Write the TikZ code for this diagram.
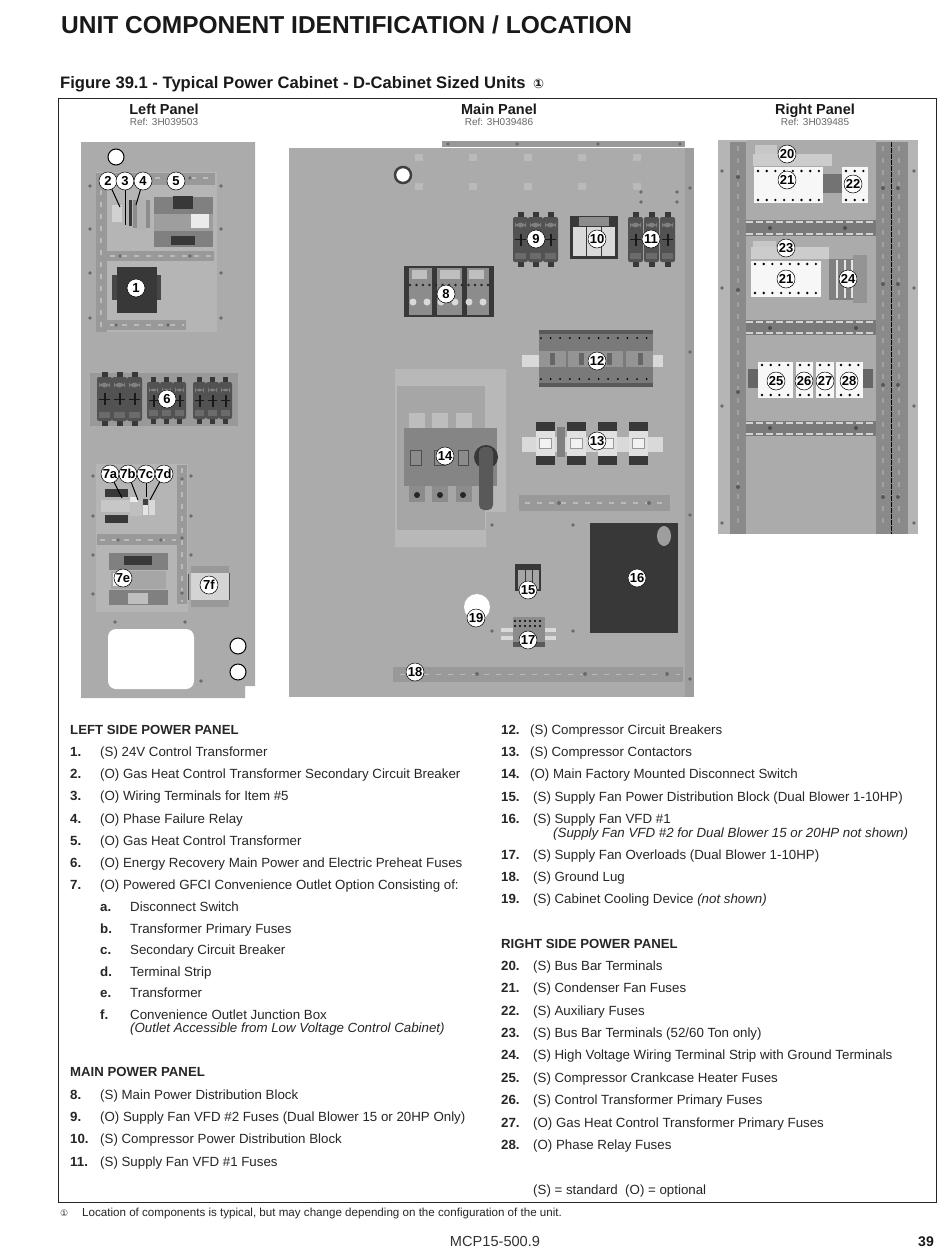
\documentclass[tikz,border=0pt]{standalone}
\usepackage{fontspec}
\setmainfont{Liberation Sans}
\newfontfamily\symfont{DejaVu Sans}
\newcommand{\itemnum}[2][30pt]{\makebox[#1][l]{\textbf{#2}}}
% x, y, width, height of one fuse holder
\newcommand{\fuseholder}[4]{%
  \fill[darkpart] (#1+0.3*#3,#2) rectangle (#1+0.7*#3,#2+#4);
  \fill[fusepart, rounded corners=2pt] (#1,#2+5) rectangle (#1+#3,#2+#4-5);
  \fill[black!50] (#1+2,#2+16) -- (#1+2,#2+10) arc (180:0:0.5*#3-2) -- (#1+#3-2,#2+16) arc (0:-180:0.5*#3-2) -- cycle;
  \fill[black!58] (#1+2,#2+#4-14) rectangle (#1+#3-2,#2+#4-8);
  \fill[black!90] (#1+0.5*#3-1,#2+0.5*#4-6) rectangle (#1+0.5*#3+1,#2+0.5*#4+6);
  \draw[black!90, line width=1pt] (#1+2,#2+0.5*#4) -- (#1+#3-2,#2+0.5*#4);
}
% x of one contactor
\newcommand{\contactor}[1]{%
  \fill[darkpart] (#1,422) rectangle (#1+19,431);
  \fill[darkpart] (#1,456) rectangle (#1+19,465);
  \fill[black!12] (#1,431) rectangle (#1+19,456);
  \fill[black!40] (#1+3,438) rectangle (#1+16,449);
  \fill[black!5] (#1+4,439) rectangle (#1+15,448);
}
\begin{document}
\begin{tikzpicture}[
    x=1pt, y=-1pt,
    plate/.style={fill=black!29},
    backplate/.style={fill=black!33},
    strip/.style={fill=black!40},
    darkstrip/.style={fill=black!52},
    darkpart/.style={fill=black!78},
    fusepart/.style={fill=black!68},
    midpart/.style={fill=black!52},
    whitepart/.style={fill=black!3},
    rivet/.style={fill=black!58},
    slots/.style={draw=black!27, line width=1.8pt, dash pattern=on 5pt off 7pt},
    barslots/.style={draw=black!18, line width=2.6pt, dash pattern=on 7pt off 3pt},
    dotrow/.style={draw=black, line width=2.6pt, line cap=round, dash pattern=on 0pt off 8.7pt},
    callout/.style={circle, draw=black, fill=white, minimum size=18pt, inner sep=0, line width=0.5pt, font=\fontsize{13}{13}\selectfont\bfseries},
    leader/.style={draw=black, line width=1pt},
    holering/.style={draw=black, fill=white, line width=1pt},
    headline/.style={anchor=base west, inner sep=0, font=\fontsize{24.5}{26}\selectfont\bfseries, text=black!90},
    figtitle/.style={anchor=base west, inner sep=0, font=\fontsize{16.6}{18}\selectfont\bfseries, text=black!90},
    paneltitle/.style={anchor=base, inner sep=0, font=\fontsize{14.5}{16}\selectfont\bfseries, text=black!90},
    refnote/.style={anchor=base, inner sep=0, font=\fontsize{10}{11}\selectfont, text=black!60},
    sectitle/.style={anchor=base west, inner sep=0, font=\fontsize{13.2}{15}\selectfont\bfseries, text=black!85},
    itemtext/.style={anchor=base west, inner sep=0, font=\fontsize{13.3}{15}\selectfont, text=black!85},
    itemnote/.style={anchor=base west, inner sep=0, font=\fontsize{13.3}{15}\selectfont\itshape, text=black!85},
    footnote/.style={anchor=base west, inner sep=0, font=\fontsize{11.6}{13}\selectfont, text=black!85}
]

\useasboundingbox (0,0) rectangle (950,1248);
\fill[white] (0,0) rectangle (950,1248);

% ============================================
% TITLES AND FRAME
% ============================================
\node[headline] (pagetitle) at (61,33) {UNIT COMPONENT IDENTIFICATION / LOCATION};
\node[figtitle] (figtitle) at (60,88) {Figure 39.1 - Typical Power Cabinet - D-Cabinet Sized Units \,{\symfont\fontsize{13}{13}\selectfont ①}};
\draw[black!85, line width=1pt] (58,98) rectangle (936,1202);

\node[paneltitle] (lefttitle) at (164,114) {Left Panel};
\node[refnote] (leftref) at (164,125.5) {Ref: 3H039503};
\node[paneltitle] (maintitle) at (499,114) {Main Panel};
\node[refnote] (mainref) at (499,125.5) {Ref: 3H039486};
\node[paneltitle] (righttitle) at (815,114) {Right Panel};
\node[refnote] (rightref) at (815,125.5) {Ref: 3H039485};

% ============================================
% LEFT PANEL
% ============================================
\fill[backplate] (81,142) -- (255,142) -- (255,686) -- (245,686) -- (245,698) -- (81,698) -- cycle;
\fill[plate] (96,172) rectangle (217,332);
\fill[plate] (96,464) rectangle (188,612);
\fill[rivet] (90,186) circle (1.8) (90,229) circle (1.8) (90,273) circle (1.8) (90,318) circle (1.8);
\fill[rivet] (221,186) circle (1.8) (221,229) circle (1.8) (221,273) circle (1.8) (221,318) circle (1.8);
\fill[rivet] (93,476) circle (1.8) (93,516) circle (1.8) (93,555) circle (1.8) (93,594) circle (1.8);
\fill[rivet] (191,476) circle (1.8) (191,516) circle (1.8) (191,555) circle (1.8);
\fill[rivet] (115,622) circle (1.8) (185,622) circle (1.8) (201,681) circle (1.8);

% Upper strips
\fill[strip] (96,173) rectangle (215,185);
\fill[strip] (96,173) rectangle (107,332);
\fill[strip] (107,251) rectangle (214,261);
\fill[strip] (96,320) rectangle (186,330);
\draw[slots] (155,178) -- (213,178);
\draw[slots] (101,190) -- (101,328);
\draw[slots] (110,256) -- (212,256);
\draw[slots] (110,325) -- (184,325);
\fill[rivet] (190,178) circle (1.8) (120,256) circle (1.8) (190,256) circle (1.8) (116,325) circle (1.8) (168,325) circle (1.8);

% Item 1
\fill[black!72] (112,275) rectangle (161,300);
\fill[darkpart] (117,267) rectangle (157,313);

% Items 2, 3, 4
\fill[black!18] (112,205) rectangle (122,222);
\fill[darkpart] (129,200) rectangle (132,226);
\fill[black!45] (133,200) rectangle (150,228);
\fill[black!30] (137,197) rectangle (146,230);

% Item 5
\fill[black!50] (154,197) rectangle (213,214);
\fill[black!38] (154,214) rectangle (213,231);
\fill[black!50] (154,231) rectangle (213,247);
\fill[black!8] (191,214) rectangle (209,228);
\fill[darkpart] (173,196) rectangle (193,209);
\fill[darkpart] (171,236) rectangle (195,245);

% Item 6
\fill[black!40] (90,373) rectangle (238,426);
\fuseholder{97}{372}{15}{54}
\fuseholder{112}{372}{15}{54}
\fuseholder{127}{372}{15}{54}
\fuseholder{147}{377}{13}{47}
\fuseholder{160}{377}{13}{47}
\fuseholder{173}{377}{13}{47}
\fuseholder{193}{377}{13}{47}
\fuseholder{206}{377}{13}{47}
\fuseholder{219}{377}{13}{47}

% Lower strips
\fill[strip] (177,465) rectangle (187,604);
\fill[strip] (97,534) rectangle (177,545);
\draw[slots] (182,468) -- (182,602);
\draw[slots] (100,540) -- (176,540);
\fill[rivet] (182,479) circle (1.8) (182,538) circle (1.8) (182,593) circle (1.8) (118,540) circle (1.8) (161,540) circle (1.8);

% Items 7a, 7b, 7c, 7d
\fill[black!22] (101,500) rectangle (130,512);
\fill[black!78] (105,489) rectangle (128,497);
\fill[black!78] (105,515) rectangle (128,523);
\fill[black!25] (130,499) rectangle (142,516);
\fill[black!8] (130,497) rectangle (138,502);
\fill[black!75] (143,499) rectangle (148,505);
\fill[black!10] (143,505) rectangle (148,515);
\fill[black!15] (149,500) rectangle (155,515);

% Item 7e
\fill[black!50] (109,553) rectangle (168,570);
\fill[black!35] (111,571) rectangle (166,589);
\fill[black!50] (109,590) rectangle (168,605);
\fill[black!8] (113,573) rectangle (125,586);
\fill[darkpart] (124,556) rectangle (152,565);
\fill[black!25] (128,593) rectangle (148,604);

% Item 7f
\fill[black!40] (191,566) rectangle (229,607);
\fill[black!17] (191,573) rectangle (229,600);
\draw[black!70, line width=1pt] (188,574) -- (188,600);
\draw[black!70, line width=0.6pt] (229,573) -- (229,600);

% Openings
\fill[white, rounded corners=8pt] (108,629) rectangle (194,689);
\draw[holering] (116,157) circle (8);
\draw[holering] (238,646) circle (8);
\draw[holering] (238,672) circle (8);

% ============================================
% MAIN PANEL
% ============================================
\fill[strip] (442,141) rectangle (685,147);
\fill[backplate] (289,148) rectangle (694,697);
\fill[black!38] (685,148) rectangle (694,697);
\draw[white, line width=0.6pt] (442,147.5) -- (685,147.5);
\fill[rivet] (448,144) circle (1.8) (517,144) circle (1.8) (598,144) circle (1.8) (680,144) circle (1.8);
\fill[rivet] (690,188) circle (1.8) (690,352) circle (1.8) (690,515) circle (1.8) (690,679) circle (1.8);
\fill[rivet] (641,192) circle (1.8) (677,192) circle (1.8) (641,202) circle (1.8) (677,202) circle (1.8);
\fill[rivet] (492,525) circle (1.8) (573,525) circle (1.8) (492,631) circle (1.8) (573,631) circle (1.8);

% Upper pads
\draw[draw=black!27, line width=7pt, dash pattern=on 8pt off 46.4pt] (415,157) -- (650,157);
\draw[draw=black!27, line width=7pt, dash pattern=on 8pt off 46.4pt] (415,186) -- (650,186);
\draw[black!75, fill=white, line width=2.5pt] (403,175) circle (8);

% Item 8
\fill[darkpart] (404,266) rectangle (494,317);
\fill[black!45] (409,268) rectangle (432,315);
\fill[black!45] (437,268) rectangle (462,315);
\fill[black!45] (467,268) rectangle (489,315);
\fill[black!25] (412,270) rectangle (427,279);
\fill[black!25] (440,270) rectangle (460,279);
\fill[black!25] (469,270) rectangle (484,279);
\draw[dotrow, dash pattern=on 0pt off 6.5pt, draw=black!85] (410,285) -- (489,285);
\draw[dotrow, draw=black!15, dash pattern=on 0pt off 14pt, line width=7pt] (413,302) -- (488,302);

% Items 9, 10, 11
\fuseholder{513}{212}{15}{55}
\fuseholder{528}{212}{15}{55}
\fuseholder{543}{212}{15}{55}
\fill[darkpart] (570,216) rectangle (618,259);
\fill[black!15] (573,227) rectangle (586,256);
\fill[black!15] (587,227) rectangle (601,256);
\fill[black!15] (602,227) rectangle (615,256);
\fill[black!45] (579,217) rectangle (609,226);
\fuseholder{628}{212}{15}{55}
\fuseholder{644}{212}{15}{55}
\fuseholder{660}{212}{15}{55}

% Item 12
\fill[black!15] (522,355) rectangle (539,367);
\fill[black!15] (653,355) rectangle (663,367);
\fill[black!52] (539,332) rectangle (653,385);
\fill[black!65] (539,330) rectangle (653,334);
\fill[black!65] (539,383) rectangle (653,387);
\fill[black!42] (539,351) rectangle (566,367);
\fill[black!42] (568,351) rectangle (623,367);
\fill[black!42] (626,351) rectangle (653,367);
\fill[black!60] (550,353) rectangle (555,365);
\fill[black!60] (579,353) rectangle (584,365);
\fill[black!60] (607,353) rectangle (612,365);
\fill[black!60] (638,353) rectangle (643,365);
\draw[dotrow, dash pattern=on 0pt off 9.6pt, line width=2pt] (541,338) -- (652,338);
\draw[dotrow, dash pattern=on 0pt off 9.6pt, line width=2pt] (541,379) -- (652,379);

% Item 13
\fill[black!15] (522,437) rectangle (663,452);
\contactor{536}
\contactor{567}
\contactor{598}
\contactor{629}
\fill[black!50] (557,427) rectangle (565,457);

% Strip below item 13
\fill[strip] (519,495) rectangle (670,511);
\draw[slots] (525,503) -- (668,503);
\fill[rivet] (559,503) circle (2);
\fill[rivet] (649,503) circle (2);

% Item 14
\fill[black!28] (395,369) -- (506,369) -- (506,512) -- (486,512) -- (486,547) -- (395,547) -- cycle;
\fill[black!35] (397,386) rectangle (485,530);
\fill[black!26] (409,413) rectangle (425,428);
\fill[black!26] (432,413) rectangle (448,428);
\fill[black!26] (456,413) rectangle (472,428);
\fill[black!48] (404,428) rectangle (497,486);
\fill[black!45] (409,486) rectangle (425,502);
\fill[black!45] (432,486) rectangle (448,502);
\fill[black!45] (456,486) rectangle (472,502);
\fill[black!85] (417,495) circle (3);
\fill[black!85] (440,495) circle (3);
\fill[black!85] (463,495) circle (3);
\draw[black!70, fill=black!45] (410,450) rectangle (421,465);
\draw[black!70, fill=black!45] (434,450) rectangle (445,465);
\draw[black!70, fill=black!45] (458,450) rectangle (468,465);
\fill[black!78] (486,457) circle (12);
\fill[black!65, rounded corners=5pt] (479,447) rectangle (493,510);

% Items 15, 16, 17
\fill[darkpart] (515,564) rectangle (541,591);
\fill[black!35] (518,570) rectangle (525,589);
\fill[black!35] (526,570) rectangle (532,589);
\fill[black!35] (533,570) rectangle (539,589);
\fill[black!78] (590,523) rectangle (678,633);
\fill[black!38] (664,536) ellipse (7 and 10);
\fill[black!15] (501,628) rectangle (556,632);
\fill[black!15] (501,636) rectangle (556,640);
\fill[black!45] (513,617) rectangle (545,647);
\fill[black!65] (513,642) rectangle (545,647);
\draw[dotrow, dash pattern=on 0pt off 5pt, line width=2.2pt] (515,621) -- (544,621);
\draw[dotrow, dash pattern=on 0pt off 5pt, line width=2.2pt] (515,626) -- (544,626);

% Item 18
\fill[strip] (393,667) rectangle (683,682);
\draw[slots] (400,674.5) -- (680,674.5);
\fill[rivet] (477,674) circle (2);
\fill[rivet] (585,674) circle (2);
\fill[rivet] (667,674) circle (2);

% Item 19
\fill[white] (477,607) circle (13);

% ============================================
% RIGHT PANEL
% ============================================
\fill[plate] (718,140) rectangle (918,534);
\fill[backplate] (746,140) rectangle (876,534);
\fill[black!46] (730,142) rectangle (746,534);
\fill[black!46] (876,142) rectangle (908,534);
\draw[black, dash pattern=on 5pt off 1pt, line width=1pt] (891,142) -- (891,534);
\draw[slots, draw=black!37] (738,146) -- (738,530);
\draw[slots, draw=black!37] (883,146) -- (883,530);
\draw[slots, draw=black!37] (899,146) -- (899,530);
\fill[rivet] (722,171) circle (1.8) (722,288) circle (1.8) (722,406) circle (1.8) (722,523) circle (1.8);
\fill[rivet] (914,171) circle (1.8) (914,288) circle (1.8) (914,406) circle (1.8) (914,523) circle (1.8);
\fill[black!65] (738,177) circle (2) (738,290) circle (2) (738,392) circle (2) (738,487) circle (2);
\fill[black!65] (883,188) circle (2) (883,284) circle (2) (883,385) circle (2) (883,497) circle (2);
\fill[black!65] (898,188) circle (2) (898,284) circle (2) (898,385) circle (2) (898,497) circle (2);

% Cross rails
\fill[darkstrip] (746,220) rectangle (876,236);
\fill[darkstrip] (746,320) rectangle (876,335);
\fill[darkstrip] (746,421) rectangle (876,436);
\draw[barslots] (746,222) -- (876,222);
\draw[barslots] (746,234) -- (876,234);
\draw[barslots] (746,322) -- (876,322);
\draw[barslots] (746,333) -- (876,333);
\draw[barslots] (746,423) -- (876,423);
\draw[barslots] (746,434) -- (876,434);
\fill[black!70] (770,228) circle (2) (845,228) circle (2) (770,328) circle (2) (856,328) circle (2) (770,428) circle (2) (856,428) circle (2);

% Items 20, 21, 22
\fill[black!22] (755,145) rectangle (777,154);
\fill[black!20] (753,154) rectangle (832,166);
\fill[black!55] (823,174) rectangle (842,193);
\fill[whitepart] (754,167) rectangle (823,203);
\fill[whitepart] (842,167) rectangle (868,203);
\draw[dotrow] (758,171) -- (822,171);
\draw[dotrow] (758,200) -- (822,200);
\draw[dotrow] (846,171) -- (866,171);
\draw[dotrow] (846,200) -- (866,200);

% Items 23, 21, 24
\fill[black!22] (753,241) rectangle (776,247);
\fill[black!20] (751,247) rectangle (829,259);
\fill[whitepart] (751,261) rectangle (821,297);
\draw[dotrow] (755,264) -- (819,264);
\draw[dotrow] (755,293) -- (819,293);
\fill[black!50] (829,259) rectangle (853,300);
\fill[black!42] (853,255) rectangle (867,303);
\fill[black!10] (836,260) rectangle (838,298);
\fill[black!10] (844,260) rectangle (846,298);
\fill[black!10] (851,260) rectangle (853,298);

% Items 25, 26, 27, 28
\fill[black!60] (748,369) rectangle (758,388);
\fill[black!60] (863,369) rectangle (873,388);
\fill[whitepart] (758,362) rectangle (793,398);
\fill[whitepart] (796,362) rectangle (813,398);
\fill[whitepart] (816,362) rectangle (834,398);
\fill[whitepart] (836,362) rectangle (863,398);
\draw[dotrow] (762,365) -- (791,365);
\draw[dotrow] (762,395) -- (791,395);
\draw[dotrow] (800,365) -- (811,365);
\draw[dotrow] (800,395) -- (811,395);
\draw[dotrow] (820,365) -- (832,365);
\draw[dotrow] (820,395) -- (832,395);
\draw[dotrow] (841,365) -- (861,365);
\draw[dotrow] (841,395) -- (861,395);

% ============================================
% CALLOUTS
% ============================================
\node[callout] (c1) at (136,288) {1};
\node[callout] (c2) at (108,181) {2};
\node[callout] (c3) at (125,181) {3};
\node[callout] (c4) at (143,181) {4};
\node[callout] (c5) at (176,181) {5};
\node[callout] (c6) at (167,399) {6};
\node[callout] (c7a) at (110,474) {7a};
\node[callout] (c7b) at (128,474) {7b};
\node[callout] (c7c) at (146,474) {7c};
\node[callout] (c7d) at (164,474) {7d};
\node[callout] (c7e) at (123,578) {7e};
\node[callout] (c7f) at (209,585) {7f};
\node[callout] (c8) at (446,294) {8};
\node[callout] (c9) at (536,239) {9};
\node[callout] (c10) at (597,239) {10};
\node[callout] (c11) at (651,239) {11};
\node[callout] (c12) at (597,361) {12};
\node[callout] (c13) at (597,441) {13};
\node[callout] (c14) at (445,456) {14};
\node[callout] (c15) at (528,590) {15};
\node[callout] (c16) at (637,578) {16};
\node[callout] (c17) at (528,640) {17};
\node[callout] (c18) at (415,672) {18};
\node[callout] (c19) at (476,618) {19};
\node[callout] (c20) at (787,154) {20};
\node[callout] (c21a) at (787,180) {21};
\node[callout] (c22) at (853,184) {22};
\node[callout] (c23) at (786,248) {23};
\node[callout] (c21b) at (786,279) {21};
\node[callout] (c24) at (848,279) {24};
\node[callout] (c25) at (776,381) {25};
\node[callout] (c26) at (804,381) {26};
\node[callout] (c27) at (825,381) {27};
\node[callout] (c28) at (849,381) {28};

% Leaders
\coordinate (p2) at (120,207);
\coordinate (p3) at (125,225);
\coordinate (p4) at (136,205);
\coordinate (p7a) at (122,498);
\coordinate (p7b) at (138,500);
\coordinate (p7c) at (146,497);
\coordinate (p7d) at (150,500);
\draw[leader] (c2) -- (p2);
\draw[leader] (c3) -- (p3);
\draw[leader] (c4) -- (p4);
\draw[leader] (c7a) -- (p7a);
\draw[leader] (c7b) -- (p7b);
\draw[leader] (c7c) -- (p7c);
\draw[leader] (c7d) -- (p7d);

% ============================================
% LEFT COLUMN
% ============================================
\node[sectitle] (leftside) at (70,734.5) {LEFT SIDE POWER PANEL};
\node[itemtext] (i1) at (70,756.5) {\itemnum{1.}(S) 24V Control Transformer};
\node[itemtext] (i2) at (70,778.5) {\itemnum{2.}(O) Gas Heat Control Transformer Secondary Circuit Breaker};
\node[itemtext] (i3) at (70,800.5) {\itemnum{3.}(O) Wiring Terminals for Item \#5};
\node[itemtext] (i4) at (70,823.5) {\itemnum{4.}(O) Phase Failure Relay};
\node[itemtext] (i5) at (70,845.5) {\itemnum{5.}(O) Gas Heat Control Transformer};
\node[itemtext] (i6) at (70,867.5) {\itemnum{6.}(O) Energy Recovery Main Power and Electric Preheat Fuses};
\node[itemtext] (i7) at (70,889.5) {\itemnum{7.}(O) Powered GFCI Convenience Outlet Option Consisting of:};
\node[itemtext] (i7a) at (100,911.5) {\itemnum{a.}Disconnect Switch};
\node[itemtext] (i7b) at (100,933.5) {\itemnum{b.}Transformer Primary Fuses};
\node[itemtext] (i7c) at (100,954.5) {\itemnum{c.}Secondary Circuit Breaker};
\node[itemtext] (i7d) at (100,976.5) {\itemnum{d.}Terminal Strip};
\node[itemtext] (i7e) at (100,997.5) {\itemnum{e.}Transformer};
\node[itemtext] (i7f) at (100,1019) {\itemnum{f.}Convenience Outlet Junction Box};
\node[itemnote] (n7f) at (130,1032.5) {(Outlet Accessible from Low Voltage Control Cabinet)};

\node[sectitle] (mainside) at (70,1076.5) {MAIN POWER PANEL};
\node[itemtext] (i8) at (70,1099.5) {\itemnum{8.}(S) Main Power Distribution Block};
\node[itemtext] (i9) at (70,1121.5) {\itemnum{9.}(O) Supply Fan VFD \#2 Fuses (Dual Blower 15 or 20HP Only)};
\node[itemtext] (i10) at (70,1143.5) {\itemnum{10.}(S) Compressor Power Distribution Block};
\node[itemtext] (i11) at (70,1166.5) {\itemnum{11.}(S) Supply Fan VFD \#1 Fuses};

% ============================================
% RIGHT COLUMN
% ============================================
\node[itemtext] (i12) at (501,734.5) {\itemnum[29pt]{12.}(S) Compressor Circuit Breakers};
\node[itemtext] (i13) at (501,756.5) {\itemnum[29pt]{13.}(S) Compressor Contactors};
\node[itemtext] (i14) at (501,778.5) {\itemnum[29pt]{14.}(O) Main Factory Mounted Disconnect Switch};
\node[itemtext] (i15) at (501,801.5) {\itemnum[32pt]{15.}(S) Supply Fan Power Distribution Block (Dual Blower 1-10HP)};
\node[itemtext] (i16) at (501,823.5) {\itemnum[32pt]{16.}(S) Supply Fan VFD \#1};
\node[itemnote] (n16) at (553,837.5) {(Supply Fan VFD \#2 for Dual Blower 15 or 20HP not shown)};
\node[itemtext] (i17) at (501,859.5) {\itemnum[32pt]{17.}(S) Supply Fan Overloads (Dual Blower 1-10HP)};
\node[itemtext] (i18) at (501,881.5) {\itemnum[32pt]{18.}(S) Ground Lug};
\node[itemtext] (i19) at (501,903.5) {\itemnum[32pt]{19.}(S) Cabinet Cooling Device \textit{(not shown)}};

\node[sectitle] (rightside) at (501,948.5) {RIGHT SIDE POWER PANEL};
\node[itemtext] (i20) at (501,970.5) {\itemnum[32pt]{20.}(S) Bus Bar Terminals};
\node[itemtext] (i21) at (501,992.5) {\itemnum[32pt]{21.}(S) Condenser Fan Fuses};
\node[itemtext] (i22) at (501,1015.5) {\itemnum[32pt]{22.}(S) Auxiliary Fuses};
\node[itemtext] (i23) at (501,1037.5) {\itemnum[32pt]{23.}(S) Bus Bar Terminals (52/60 Ton only)};
\node[itemtext] (i24) at (501,1059.5) {\itemnum[32pt]{24.}(S) High Voltage Wiring Terminal Strip with Ground Terminals};
\node[itemtext] (i25) at (501,1082.5) {\itemnum[32pt]{25.}(S) Compressor Crankcase Heater Fuses};
\node[itemtext] (i26) at (501,1104.5) {\itemnum[32pt]{26.}(S) Control Transformer Primary Fuses};
\node[itemtext] (i27) at (501,1127.5) {\itemnum[32pt]{27.}(O) Gas Heat Control Transformer Primary Fuses};
\node[itemtext] (i28) at (501,1149.5) {\itemnum[32pt]{28.}(O) Phase Relay Fuses};
\node[itemtext] (legend) at (533,1194.5) {(S) = standard\ \ (O) = optional};

% ============================================
% FOOT OF THE PAGE
% ============================================
\node[footnote] (note) at (60,1216) {\makebox[22pt][l]{\symfont\fontsize{9}{9}\selectfont ①}Location of components is typical, but may change depending on the configuration of the unit.};
\node[anchor=base, inner sep=0, font=\fontsize{14.6}{16}\selectfont, text=black!80] (docnum) at (495,1246) {MCP15-500.9};
\node[anchor=base east, inner sep=0, font=\fontsize{14}{16}\selectfont\bfseries, text=black!90] (pagenum) at (934,1246) {39};

\end{tikzpicture}
\end{document}
